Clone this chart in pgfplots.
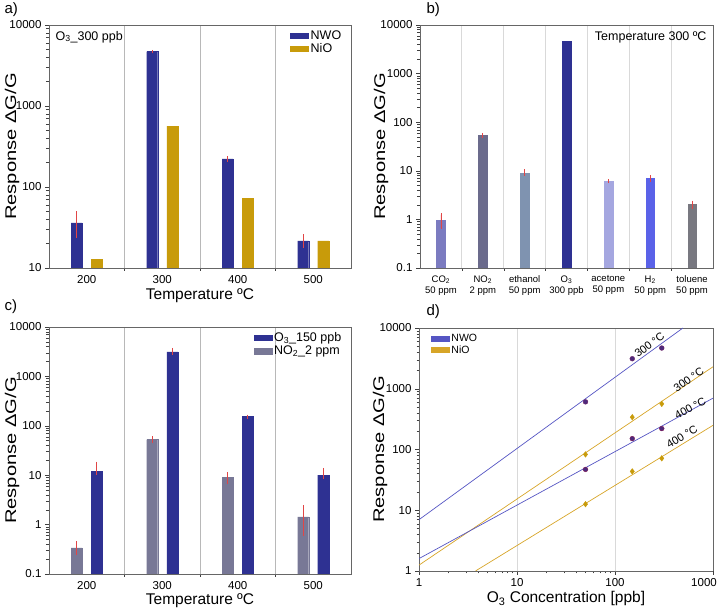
\documentclass[border=0pt]{standalone}
\usepackage{pgfplots}
\pgfplotsset{compat=1.18}
\usepackage{fontspec}
\setmainfont{Liberation Sans}
\definecolor{nwo}{RGB}{46,49,146}
\definecolor{nio}{RGB}{200,155,10}
\definecolor{errc}{RGB}{225,70,70}
\definecolor{cco}{RGB}{123,123,192}
\definecolor{cno}{RGB}{107,107,140}
\definecolor{cet}{RGB}{127,147,176}
\definecolor{cac}{RGB}{165,167,224}
\definecolor{chh}{RGB}{90,98,232}
\definecolor{cto}{RGB}{120,120,128}
\definecolor{cgr}{RGB}{120,120,150}
\definecolor{nwol}{RGB}{85,85,195}
\definecolor{niol}{RGB}{215,165,40}
\pgfplotsset{
  base/.style={
    scale only axis,
    axis line style={black!60},
    tick style={black!75, thin},
    tick align=outside,
    tick pos=left,
    ticklabel style={font=\fontsize{11.5}{12}\selectfont},
    xlabel style={font=\fontsize{15.5}{16}\selectfont, inner sep=1pt},
    ylabel style={font=\fontsize{15.5}{16}\selectfont, inner sep=1pt, anchor=center},
    /pgf/number format/assume math mode=true,
    /pgf/number format/1000 sep={},
    log ticks with fixed point,
    major tick length=4pt, minor tick length=2.5pt,
    log origin=infty,
    legend cell align=left,
  },
  ylab/.style={ylabel style={at={([xshift=#1]axis description cs:0,0.5)}}},
  errs/.style={error bars/.cd, y dir=both, y explicit,
    error bar style={errc, line width=0.6pt},
    error mark options={errc, mark size=1.3pt, line width=0.6pt}},
  patch legend/.style={legend image code/.code={\fill[##1] (0pt,-2.6pt) rectangle (18pt,2.6pt);}},
}
\begin{document}
\begin{tikzpicture}[x=1pt,y=1pt]
\path[use as bounding box] (0,0) rectangle (720,609);
\node[anchor=west, font=\fontsize{15}{16}\selectfont] at (1,599) {a)};
\node[anchor=west, font=\fontsize{15}{16}\selectfont] at (423,599) {b)};
\node[anchor=west, font=\fontsize{15}{16}\selectfont] at (1,302) {c)};
\node[anchor=west, font=\fontsize{15}{16}\selectfont] at (423,297) {d)};

% ---------- a ----------
\begin{axis}[base, at={(49pt,341pt)}, anchor=south west, width=302pt, height=243pt,
  ymode=log, ymin=10, ymax=10000, ytick={10,100,1000,10000},
  xmin=0.5, xmax=4.5, xtick={1,2,3,4}, xticklabels={200,300,400,500},
  every major x tick/.append style={draw=none},
  minor xtick={1.5,2.5,3.5}, xminorgrids=true,
  minor x grid style={black!28, line width=0.9pt},
  minor tick length=3pt,
  xlabel={Temperature ºC},
  ylabel={\scalebox{1.3}[1]{Response ΔG/G}}, ylab=-37pt,
  ybar, bar width=11pt,
  patch legend,
  legend style={draw=none, fill=none, at={(0.985,0.995)}, anchor=north east,
    font=\fontsize{12.5}{13}\selectfont, row sep=-1pt},
]
\addplot[fill=nwo, draw=nwo, bar shift=-10pt, errs] coordinates {
 (1,36) += (0,12.5) -= (0,11.5)
 (2,4700) += (0,60) -= (0,60)
 (3,222) += (0,10) -= (0,8)
 (4,21.6) += (0,3.4) -= (0,3.4)};
\addlegendentry{NWO}
\addplot[fill=nio, draw=nio, bar shift=10pt] coordinates {
 (1,12.8) (2,565) (3,72) (4,21.6)};
\addlegendentry{NiO}
\node[anchor=north west, font=\fontsize{12.5}{13}\selectfont] at (rel axis cs:0.01,0.99) {O\textsubscript{3}\_300 ppb};
\end{axis}

% ---------- b ----------
\begin{axis}[base, at={(420pt,341pt)}, anchor=south west, width=293pt, height=243pt,
  ymode=log, ymin=0.1, ymax=10000, ytick={0.1,1,10,100,1000,10000},
  xmin=0.5, xmax=7.5, xtick={1,...,7},
  xticklabels={{CO\textsubscript{2}\\50 ppm},{NO\textsubscript{2}\\2 ppm},{ethanol\\50 ppm},{O\textsubscript{3}\\300 ppb},{acetone\\50 ppm},{H\textsubscript{2}\\50 ppm},{toluene\\50 ppm}},
  xticklabel style={align=center, font=\fontsize{9.5}{11}\selectfont},
  every major x tick/.append style={draw=none},
  minor xtick={1.5,2.5,...,6.5}, xminorgrids=true,
  minor x grid style={black!15, line width=0.9pt},
  minor tick length=3pt,
  ylabel={\scalebox{1.3}[1]{Response ΔG/G}}, ylab=-39pt,
  ybar, bar width=8.7pt,
]
\addplot[fill=cco, draw=cco, bar shift=0pt, errs] coordinates {(1,0.94) += (0,0.32) -= (0,0.27)};
\addplot[fill=cno, draw=cno, bar shift=0pt, errs] coordinates {(2,53) += (0,3.5) -= (0,3)};
\addplot[fill=cet, draw=cet, bar shift=0pt, errs] coordinates {(3,9.1) += (0,0.9) -= (0,0.7)};
\addplot[fill=nwo, draw=nwo, bar shift=0pt] coordinates {(4,4700)};
\addplot[fill=cac, draw=cac, bar shift=0pt, errs] coordinates {(5,6.1) += (0,0.15) -= (0,0.15)};
\addplot[fill=chh, draw=chh, bar shift=0pt, errs] coordinates {(6,6.9) += (0,0.7) -= (0,0.6)};
\addplot[fill=cto, draw=cto, bar shift=0pt, errs] coordinates {(7,2.02) += (0,0.28) -= (0,0.24)};
\node[anchor=north east, font=\fontsize{12.5}{13}\selectfont] at (rel axis cs:0.99,0.985) {Temperature 300 ºC};
\end{axis}

% ---------- c ----------
\begin{axis}[base, at={(49pt,35pt)}, anchor=south west, width=302pt, height=247pt,
  ymode=log, ymin=0.1, ymax=10000, ytick={0.1,1,10,100,1000,10000},
  xmin=0.5, xmax=4.5, xtick={1,2,3,4}, xticklabels={200,300,400,500},
  every major x tick/.append style={draw=none},
  minor xtick={1.5,2.5,3.5}, xminorgrids=true,
  minor x grid style={black!28, line width=0.9pt},
  minor tick length=3pt,
  xlabel={Temperature ºC},
  xlabel style={at={([yshift=-18pt]axis description cs:0.5,0)}, anchor=north},
  ylabel={\scalebox{1.3}[1]{Response ΔG/G}}, ylab=-37pt,
  ybar, bar width=11pt,
  patch legend,
  legend style={draw=none, fill=none, at={(0.985,0.995)}, anchor=north east,
    font=\fontsize{12.5}{13}\selectfont, row sep=-1pt},
]
\addplot[fill=nwo, draw=nwo, bar shift=10pt, errs] coordinates {
 (1,12.1) += (0,5.7) -= (0,1.3)
 (2,3150) += (0,400) -= (0,250)
 (3,154) += (0,5) -= (0,6)
 (4,10) += (0,3.3) -= (0,1.2)};
\addlegendentry{O\textsubscript{3}\_150 ppb}
\addplot[fill=cgr, draw=cgr, bar shift=-10pt, errs] coordinates {
 (1,0.336) += (0,0.1) -= (0,0.08)
 (2,52.7) += (0,5) -= (0,4.7)
 (3,8.9) += (0,1.9) -= (0,1.9)
 (4,1.44) += (0,0.86) -= (0,0.81)};
\addlegendentry{NO\textsubscript{2}\_2 ppm}
\end{axis}

% ---------- d ----------
\begin{axis}[base, at={(419pt,38pt)}, anchor=south west, width=294pt, height=243pt,
  xmode=log, ymode=log, xmin=1, xmax=1000, ymin=1, ymax=10000,
  xtick={1,10,100}, ytick={1,10,100,1000,10000},
  extra x ticks={1000}, extra x tick style={grid=none, xticklabel style={xshift=-9pt}},
  xmajorgrids=true, major x grid style={black!15, line width=0.9pt},
  xlabel={O\textsubscript{3} Concentration [ppb]},
  xlabel style={at={([yshift=-19pt]axis description cs:0.5,0)}, anchor=north},
  ylabel={\scalebox{1.3}[1]{Response ΔG/G}}, ylab=-39pt,
  patch legend,
  legend style={draw=none, fill=none, at={(0.03,0.99)}, anchor=north west,
    font=\fontsize{10.5}{11}\selectfont, row sep=-2pt},
]
\addlegendimage{draw=nwol, fill=nwol}
\addlegendentry{NWO}
\addlegendimage{draw=niol, fill=niol}
\addlegendentry{NiO}
\addplot[nwol, line width=0.7pt, forget plot] coordinates {(1,7) (493,10000)};
\addplot[niol, line width=0.7pt, forget plot] coordinates {(1,1.25) (1000,2300)};
\addplot[nwol, line width=0.7pt, forget plot] coordinates {(1,1.6) (1000,700)};
\addplot[niol, line width=0.7pt, forget plot] coordinates {(3.77,1) (1000,250)};
\addplot[only marks, mark=*, mark size=2.4pt, mark options={fill=nwo!85!red, draw=nwo!70!red}, forget plot]
  coordinates {(50,608) (150,3120) (300,4680)};
\addplot[only marks, mark=*, mark size=2.4pt, mark options={fill=nwo!85!red, draw=nwo!60!red}, forget plot]
  coordinates {(50,47) (150,151) (300,221)};
\addplot[only marks, mark=diamond*, mark size=2.8pt, mark options={fill=nio, draw=nio}, forget plot]
  coordinates {(50,83) (150,340) (300,564)};
\addplot[only marks, mark=diamond*, mark size=2.8pt, mark options={fill=nio, draw=nio}, forget plot]
  coordinates {(50,12.6) (150,43.6) (300,71.5)};
\node[rotate=36, inner sep=0pt, font=\fontsize{11}{12}\selectfont] at (axis cs:225,5300) {300 °C};
\node[rotate=34, inner sep=0pt, font=\fontsize{11}{12}\selectfont] at (axis cs:564,1403) {300 °C};
\node[rotate=29, inner sep=0pt, font=\fontsize{11}{12}\selectfont] at (axis cs:587,478) {400 °C};
\node[rotate=31, inner sep=0pt, font=\fontsize{11}{12}\selectfont] at (axis cs:482,163) {400 °C};
\end{axis}
\end{tikzpicture}
\end{document}
